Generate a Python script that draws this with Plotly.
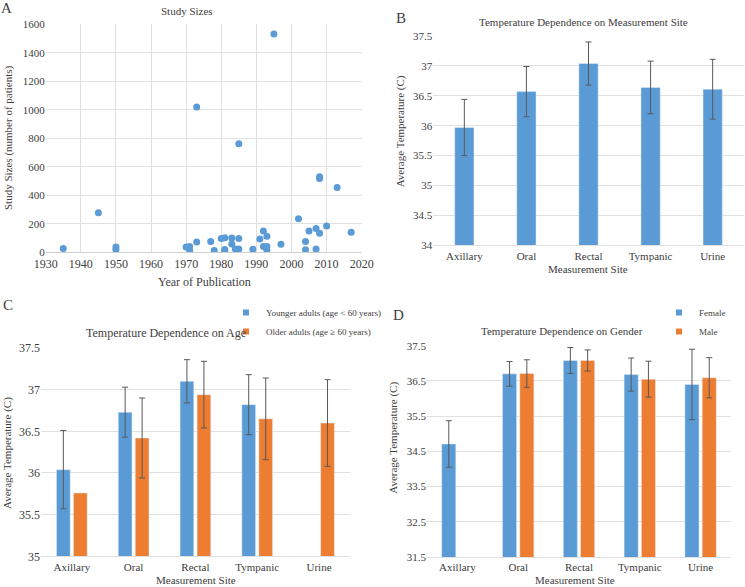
import numpy as np
import plotly.graph_objects as go

# ---------------- data ----------------
years = [1935, 1945, 1950, 1950, 1970, 1971, 1971, 1973, 1973, 1977, 1978, 1980,
         1981, 1981, 1981, 1983, 1983, 1984, 1985, 1985, 1985, 1989, 1991, 1992,
         1992, 1993, 1993, 1993, 1995, 1997, 2002, 2004, 2004, 2005, 2007, 2007,
         2008, 2008, 2008, 2010, 2013, 2017]
study_sizes = [26, 278, 38, 18, 38, 40, 12, 72, 1020, 75, 12, 96,
               102, 20, 12, 100, 58, 24, 24, 97, 762, 22, 94, 150,
               40, 112, 40, 14, 1532, 56, 236, 75, 18, 150, 167, 24,
               133, 530, 518, 185, 454, 140]

sites = ["Axillary", "Oral", "Rectal", "Tympanic", "Urine"]

site_mean = [35.97, 36.57, 37.04, 36.64, 36.61]
site_err = [0.47, 0.42, 0.36, 0.44, 0.50]

young_mean = [36.04, 36.73, 37.10, 36.82, None]
young_err = [0.47, 0.30, 0.26, 0.36, None]
old_mean = [35.76, 36.42, 36.94, 36.65, 36.60]
old_err = [None, 0.48, 0.40, 0.49, 0.52]

female_mean = [34.71, 36.70, 37.08, 36.68, 36.40]
female_err = [0.66, 0.35, 0.37, 0.47, 1.00]
male_mean = [None, 36.71, 37.08, 36.55, 36.59]
male_err = [None, 0.39, 0.30, 0.51, 0.57]

# ---------------- style ----------------
W, H = 745, 587
BLUE = "#5B9BD5"
ORANGE = "#ED7D31"
GRID = "#E0E0E0"
TXT = "#404040"
ERR = "#595959"
FONT = "Liberation Serif, DejaVu Serif, Times New Roman, serif"


def fx(x):
    return x / W


def fy(y):
    return 1 - y / H


def errs(a):
    # missing error values -> NaN so no error bar is drawn
    return np.array([np.nan if v is None else v for v in a], dtype=float)


def ebar(a):
    return dict(type="data", array=errs(a), color=ERR, thickness=1, width=3)


fig = go.Figure()

# Panel A scatter
fig.add_trace(go.Scatter(x=years, y=study_sizes, mode="markers",
                         marker=dict(color=BLUE, size=7), showlegend=False,
                         xaxis="x", yaxis="y"))

# Panel B
fig.add_trace(go.Bar(x=sites, y=site_mean, width=0.31, marker_color=BLUE,
                     error_y=ebar(site_err), showlegend=False, xaxis="x2", yaxis="y2"))

# Panel C
fig.add_trace(go.Bar(x=sites, y=young_mean, width=0.222, offset=-0.248, marker_color=BLUE,
                     error_y=ebar(young_err), showlegend=False, xaxis="x3", yaxis="y3"))
fig.add_trace(go.Bar(x=sites, y=old_mean, width=0.222, offset=0.027, marker_color=ORANGE,
                     error_y=ebar(old_err), showlegend=False, xaxis="x3", yaxis="y3"))

# Panel D
fig.add_trace(go.Bar(x=sites, y=female_mean, width=0.232, offset=-0.258, marker_color=BLUE,
                     error_y=ebar(female_err), showlegend=False, xaxis="x4", yaxis="y4"))
fig.add_trace(go.Bar(x=sites, y=male_mean, width=0.232, offset=0.026, marker_color=ORANGE,
                     error_y=ebar(male_err), showlegend=False, xaxis="x4", yaxis="y4"))

# legend entries (small square keys like the original)
for name, col, ax, lg in [("Younger adults (age < 60 years)", BLUE, "3", "legend"),
                          ("Older adults (age \u2265 60 years)", ORANGE, "3", "legend"),
                          ("Female", BLUE, "4", "legend2"),
                          ("Male", ORANGE, "4", "legend2")]:
    fig.add_trace(go.Scatter(x=[None], y=[None], mode="markers", name=name,
                             marker=dict(symbol="square", size=6, color=col),
                             xaxis="x" + ax, yaxis="y" + ax, legend=lg))

tick_font = dict(family=FONT, size=11, color=TXT)

common_y = dict(showgrid=True, gridcolor=GRID, gridwidth=1, zeroline=False,
                showline=False, ticks="", ticklen=0, tickfont=tick_font)
common_xcat = dict(type="category", categoryorder="array", categoryarray=sites,
                   range=[-0.5, 4.5], showgrid=False, zeroline=False,
                   showline=True, linecolor=GRID, ticks="", ticklen=0, tickfont=tick_font)

fig.update_layout(
    width=W, height=H,
    margin=dict(l=0, r=0, t=0, b=0, autoexpand=False),
    paper_bgcolor="white", plot_bgcolor="white",
    font=dict(family=FONT, color=TXT, size=11),
    xaxis=dict(domain=[fx(45.7), fx(361.7)], anchor="y", range=[1930, 2020],
               dtick=10, tick0=1930, showgrid=True, gridcolor=GRID, zeroline=False,
               showline=True, linecolor="#D0D0D0", ticks="", ticklen=0,
               tickfont=dict(family=FONT, size=12, color=TXT)),
    yaxis=dict(domain=[fy(252.3), fy(24.3)], anchor="x", range=[0, 1600], dtick=200,
               **{**common_y, "tickfont": dict(family=FONT, size=11, color=TXT)}),
    xaxis2=dict(domain=[fx(433.3), fx(743.7)], anchor="y2", **common_xcat),
    yaxis2=dict(domain=[fy(245.3), fy(36)], anchor="x2", range=[34, 37.5], dtick=0.5, **common_y),
    xaxis3=dict(domain=[fx(40.9), fx(349.9)], anchor="y3", **common_xcat),
    yaxis3=dict(domain=[fy(556.3), fy(348)], anchor="x3", range=[35, 37.5], dtick=0.5,
                **{**common_y, "tickfont": dict(family=FONT, size=12, color=TXT)}),
    xaxis4=dict(domain=[fx(427), fx(731)], anchor="y4", **common_xcat),
    yaxis4=dict(domain=[fy(557), fy(345.7)], anchor="x4", range=[31.5, 37.5], tick0=31.5,
                dtick=1, **common_y),
    legend=dict(x=fx(226), y=fy(298), xanchor="left", yanchor="top",
                font=dict(family=FONT, size=9, color=TXT), bgcolor="rgba(0,0,0,0)"),
    legend2=dict(x=fx(659), y=fy(298), xanchor="left", yanchor="top",
                 font=dict(family=FONT, size=9, color=TXT), bgcolor="rgba(0,0,0,0)"),
)

ann = []


def text(x, y, s, size=11, angle=0):
    ann.append(dict(x=fx(x), y=fy(y), xref="paper", yref="paper", text=s,
                    showarrow=False, xanchor="center", yanchor="middle",
                    textangle=angle, font=dict(family=FONT, size=size, color=TXT)))


# panel letters
text(7, 8, "A", 15)
text(401, 18, "B", 15)
text(8, 305, "C", 15)
text(398, 315, "D", 15)

# titles
text(186.7, 11, "Study Sizes", 11)
text(583.7, 22.5, "Temperature Dependence on Measurement Site", 11)
text(165.5, 333, "Temperature Dependence on Age", 12)
text(562, 330.5, "Temperature Dependence on Gender", 11)

# axis titles
text(204.7, 281.5, "Year of Publication", 12)
text(9, 138, "Study Sizes (number of patients)", 11, -90)
text(588, 269, "Measurement Site", 11)
text(400.3, 131, "Average Temperature (C)", 11, -90)
text(195.8, 580, "Measurement Site", 11)
text(7, 453, "Average Temperature (C)", 11, -90)
text(575.3, 580, "Measurement Site", 11)
text(392.7, 438, "Average Temperature (C)", 11, -90)

fig.update_layout(annotations=ann)

# the page's default 8px body margin would push the 745x587 figure off the window
fig.write_html("out.html",
               config={"displayModeBar": False},
               post_script="document.body.style.margin='0';document.body.style.overflow='hidden';")
